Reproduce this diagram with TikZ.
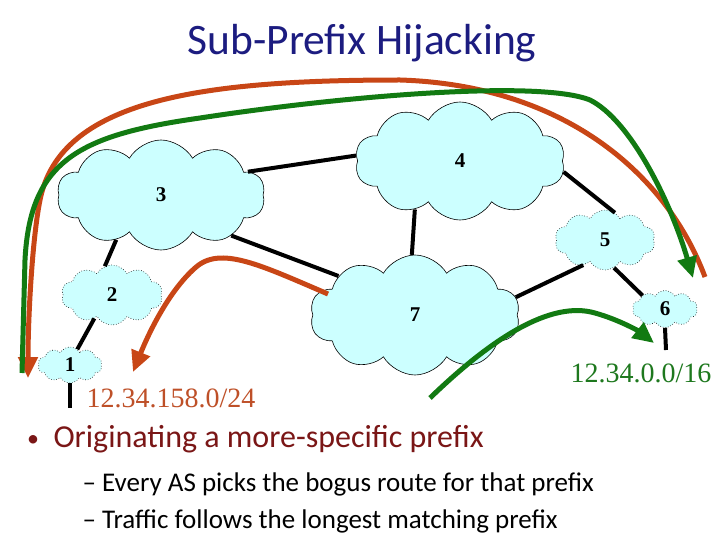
\documentclass[tikz,border=0pt]{standalone}
\usepackage{fontspec}
\setmainfont{Liberation Serif}
\newfontfamily\calibri{Carlito}
\usetikzlibrary{arrows.meta, shapes.symbols}
\definecolor{birujudul}{RGB}{28,28,128}
\definecolor{biruawan}{RGB}{204,255,255}
\definecolor{merahrute}{RGB}{200,70,22}
\definecolor{hijaurute}{RGB}{18,122,18}
\definecolor{merahlabel}{RGB}{190,80,40}
\definecolor{hijaulabel}{RGB}{30,120,30}
\definecolor{merahtua}{RGB}{122,22,22}

\begin{document}
\begin{tikzpicture}[x=1pt, y=-1pt,
    awan/.style={cloud, cloud puffs=10, cloud puff arc=120, cloud ignores aspect,
        draw=black, line width=0.6pt, fill=biruawan, inner sep=0pt,
        font=\bfseries\fontsize{21}{21}\selectfont},
    awankecil/.style={awan, dotted},
    sambung/.style={line width=4pt},
    rute/.style={line width=5pt, -{Triangle[length=21pt,width=19pt]}}]
    \useasboundingbox (0,0) rectangle (720,540);

    \node[font=\calibri\fontsize{43.5}{43.5}\selectfont, text=birujudul, anchor=base]
        (judul) at (362,55) {Sub-Prefix Hijacking};

    % AS clouds
    \foreach \nm/\x/\y/\w/\h/\gaya in {
        3/161/195/208/110/awan,
        4/460/161/210/118/awan,
        7/415/315/210/120/awan,
        2/112/295/101/60/awankecil,
        1/70/365/64/36/awankecil,
        5/605/240/100/60/awankecil,
        6/665/309/65/37/awankecil}
    {
        \node[\gaya, minimum width=\w, minimum height=\h] (as\nm) at (\x,\y) {\nm};
    }

    % links between ASes
    \foreach \a/\b in {as3.15/as4.177, as3.-30/as7.153, as3.-135/as2.104,
        as2.-127/as1.65, as4.-133/as7.93, as4.-6/as5.70, as5.-131/as7.10,
        as5.-72/as6.149}
        \draw[sambung] (\a) -- (\b);
    \coordinate (ujung1) at (70,408);
    \coordinate (ujung6) at (666,350);
    \draw[sambung] (as1.south) -- (ujung1);
    \draw[sambung] (as6.south) -- (ujung6);

    \node[text=merahlabel, font=\fontsize{28}{28}\selectfont, anchor=base west]
        (prefixpalsu) at (83,407) {12.34.158.0/24};
    \node[text=hijaulabel, font=\fontsize{28}{28}\selectfont, anchor=base west]
        (prefixasli) at (567,382) {12.34.0.0/16};

    % routes
    \coordinate (merahA) at (705,277);
    \coordinate (merahB) at (28,378);
    \coordinate (hijauA) at (22,373);
    \coordinate (hijauB) at (693,278);
    \coordinate (merahC) at (328,294);
    \coordinate (merahD) at (133,372);
    \coordinate (hijauC) at (430,398);
    \coordinate (hijauD) at (654,343);
    \draw[rute, merahrute] (merahA) .. controls (665,170) and (560,85) .. (400,80)
        .. controls (200,80) and (60,100) .. (40,200)
        .. controls (32,240) and (28,320) .. (merahB);
    \draw[rute, hijaurute] (hijauA) -- (25,260)
        .. controls (30,160) and (80,135) .. (200,118)
        .. controls (350,95) and (540,80) .. (590,100)
        .. controls (630,120) and (670,200) .. (hijauB);
    \draw[rute, merahrute] (merahC) .. controls (260,265) and (220,245) .. (195,268)
        .. controls (170,290) and (150,330) .. (merahD);
    \draw[rute, hijaurute] (hijauC) .. controls (490,340) and (550,300) .. (595,313)
        .. controls (620,320) and (640,332) .. (hijauD);

    % bullet text
    \node[font=\calibri\fontsize{24}{24}\selectfont, text=merahtua, anchor=base]
        (titik) at (33,446) {•};
    \node[font=\calibri\fontsize{32}{32}\selectfont, text=merahtua, anchor=base west]
        (poin) at (50,447) {Originating a more-specific prefix};
    \node[font=\calibri\fontsize{27}{27}\selectfont, anchor=base west]
        (subpoin1) at (79,491) {– Every AS picks the bogus route for that prefix};
    \node[font=\calibri\fontsize{27}{27}\selectfont, anchor=base west]
        (subpoin2) at (79,528) {– Traffic follows the longest matching prefix};
\end{tikzpicture}
\end{document}
